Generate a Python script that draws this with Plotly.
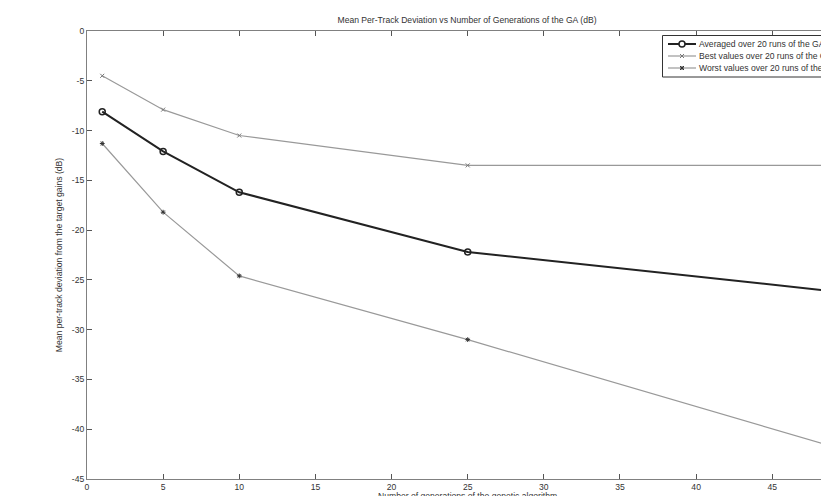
import plotly.graph_objects as go

generations = [1, 5, 10, 25, 50]
avg_vals = [-8.1, -12.1, -16.2, -22.2, -26.3]
best_vals = [-4.5, -7.9, -10.5, -13.5, -13.5]
worst_vals = [-11.3, -18.2, -24.6, -31.0, -42.2]

series_names = [
    "Averaged over 20 runs of the GA",
    "Best values over 20 runs of the GA",
    "Worst values over 20 runs of the GA",
]
x_ticks = [0, 5, 10, 15, 20, 25, 30, 35, 40, 45, 50]
y_ticks = [0, -5, -10, -15, -20, -25, -30, -35, -40, -45]
y_ticktext = ["0", "-5", "-10", "-15", "-20", "-25", "-30", "-35", "-40", "-45"]

FONT = "Liberation Sans, Arial, sans-serif"
TXT = "#333333"
AVG_C = "#222222"
GRAY_C = "#999999"
FS = 8.6

W, H = 821, 496
L, T, B = 87, 31, 17
plot_w = W - L
plot_h = H - T - B


def px(xp):
    return (xp - L) / plot_w


def py(yp):
    return (H - B - yp) / plot_h


fig = go.Figure()
fig.add_trace(go.Scatter(
    x=generations, y=avg_vals, name=series_names[0], mode="lines+markers",
    line=dict(color=AVG_C, width=2),
    marker=dict(symbol="circle-open", size=6, color=AVG_C, line=dict(width=1.5)),
    showlegend=False,
))
fig.add_trace(go.Scatter(
    x=generations, y=best_vals, name=series_names[1], mode="lines+markers",
    line=dict(color=GRAY_C, width=1.2),
    marker=dict(symbol="x-thin-open", size=4, color="#777777", line=dict(width=1)),
    showlegend=False,
))
fig.add_trace(go.Scatter(
    x=generations, y=worst_vals, name=series_names[2], mode="lines+markers",
    line=dict(color=GRAY_C, width=1.2),
    marker=dict(symbol="asterisk-open", size=4, color="#333333", line=dict(width=1)),
    showlegend=False,
))

# legend box (drawn by hand to match the compact MATLAB legend)
shapes = [dict(type="rect", xref="paper", yref="paper",
               x0=px(662.5), x1=px(900), y0=py(77), y1=py(35.5),
               line=dict(color="#333333", width=1), fillcolor="white", layer="above")]
rows = [44, 56, 68]
styles = [(AVG_C, 2), (GRAY_C, 1.2), (GRAY_C, 1.2)]
for (c, w), yr in zip(styles, rows):
    shapes.append(dict(type="line", xref="paper", yref="paper",
                       x0=px(668), x1=px(696), y0=py(yr), y1=py(yr),
                       line=dict(color=c, width=w), layer="above"))
mx = 682
shapes.append(dict(type="circle", xref="paper", yref="paper",
                   x0=px(mx - 3), x1=px(mx + 3), y0=py(rows[0] + 3), y1=py(rows[0] - 3),
                   line=dict(color=AVG_C, width=1.5), fillcolor="white", layer="above"))
for dx, dy in [(2, 2), (2, -2)]:
    shapes.append(dict(type="line", xref="paper", yref="paper",
                       x0=px(mx - dx), x1=px(mx + dx), y0=py(rows[1] - dy), y1=py(rows[1] + dy),
                       line=dict(color="#777777", width=1), layer="above"))
for dx, dy in [(2, 2), (2, -2), (2, 0), (0, 2)]:
    shapes.append(dict(type="line", xref="paper", yref="paper",
                       x0=px(mx - dx), x1=px(mx + dx), y0=py(rows[2] - dy), y1=py(rows[2] + dy),
                       line=dict(color="#333333", width=1), layer="above"))

annotations = []
for name, yr in zip(series_names, rows):
    annotations.append(dict(text=name, xref="paper", yref="paper", x=px(697), y=py(yr),
                            xanchor="left", yanchor="middle", showarrow=False,
                            font=dict(family=FONT, size=FS, color=TXT)))
annotations.append(dict(
    text="Number of generations of the genetic algorithm",
    xref="paper", yref="paper", x=px(467), y=py(489),
    xanchor="center", yanchor="top", showarrow=False,
    font=dict(family=FONT, size=FS, color=TXT),
))

fig.update_layout(
    width=W, height=H,
    margin=dict(l=L, r=0, t=T, b=B, pad=0, autoexpand=False),
    paper_bgcolor="white", plot_bgcolor="white",
    font=dict(family=FONT, size=FS, color=TXT),
    title=dict(
        text="Mean Per-Track Deviation vs Number of Generations of the GA (dB)",
        x=px(467), xref="paper", xanchor="center",
        y=1 - 20 / H, yref="container", yanchor="middle",
        font=dict(family=FONT, size=FS, color=TXT),
    ),
    showlegend=False,
    shapes=shapes,
    annotations=annotations,
)
fig.update_xaxes(
    range=[0, 48.2], tickvals=x_ticks, ticks="inside", ticklen=5,
    tickcolor="#555555", showline=True, linecolor="#808080", linewidth=1,
    mirror="ticks", showgrid=False, zeroline=False,
    tickfont=dict(family=FONT, size=FS, color=TXT),
)
fig.update_yaxes(
    range=[-45, 0], tickvals=y_ticks, ticktext=y_ticktext, ticks="inside", ticklen=5,
    tickcolor="#555555", showline=True, linecolor="#808080", linewidth=1,
    mirror=False, showgrid=False, zeroline=False,
    tickfont=dict(family=FONT, size=FS, color=TXT),
    title=dict(text="Mean per-track deviation from the target gains (dB)",
               font=dict(family=FONT, size=FS, color=TXT), standoff=7),
)

fig.write_html(
    "out.html",
    config=dict(displayModeBar=False),
    post_script="document.body.style.margin='0';document.body.style.overflow='hidden';",
)
